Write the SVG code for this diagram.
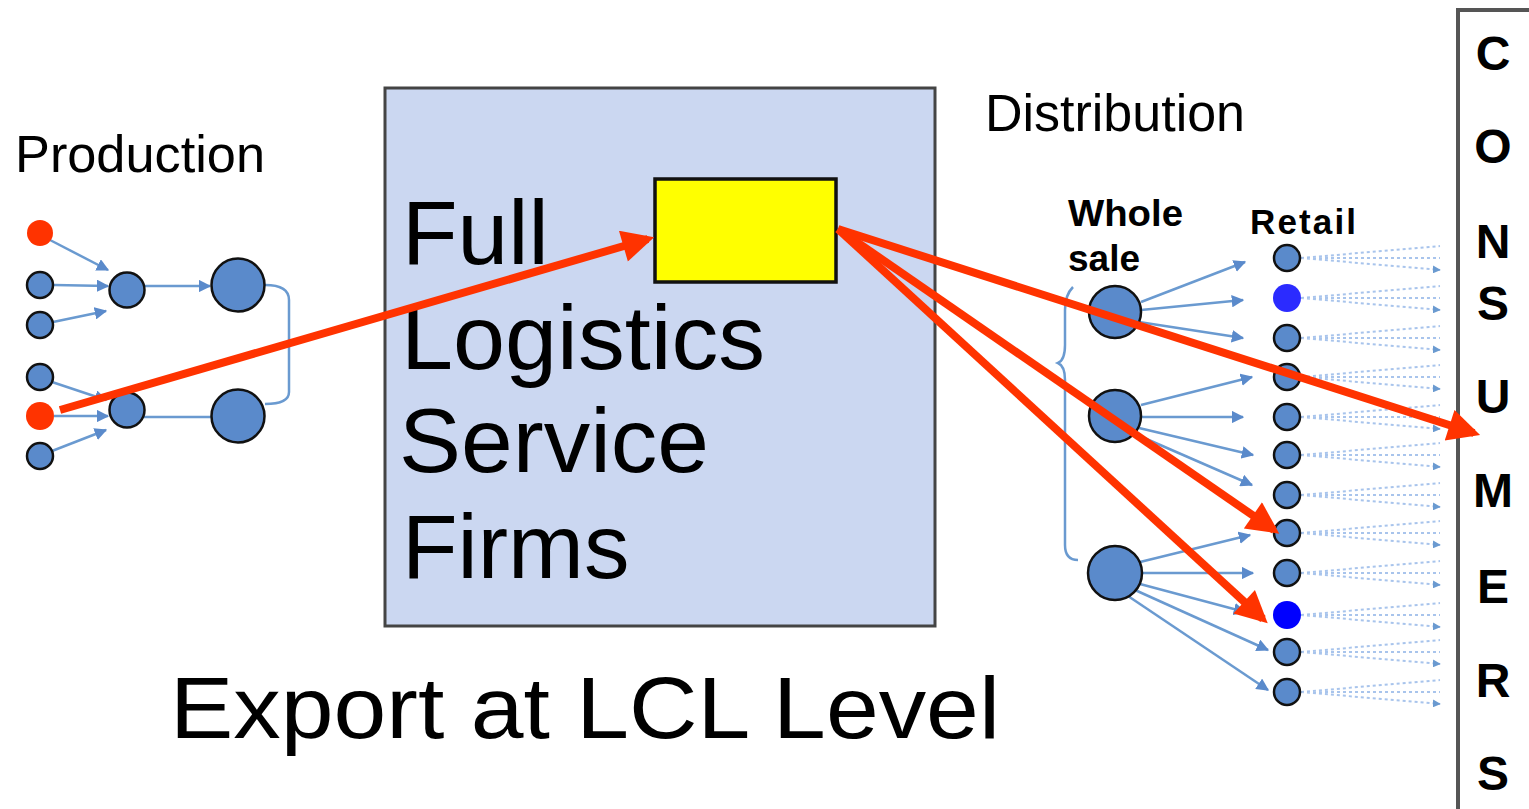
<svg xmlns="http://www.w3.org/2000/svg" width="1529" height="809" viewBox="0 0 1529 809">
<style>
.lbl{font-family:"Liberation Sans",Arial,sans-serif;fill:#000}
.big{font-size:91px}
.node{fill:#5a8acb;stroke:#111;stroke-width:2.5}
.red{fill:#ff3300;stroke:none}
.blue{fill:#2b2bff;stroke:none}
.edge{stroke:#6a9ad0;stroke-width:2.5;fill:none}
.edgeA{stroke:#6a9ad0;stroke-width:2.5;fill:none;marker-end:url(#sa)}
.dot{stroke:#a8c4ec;stroke-width:2;stroke-dasharray:3 3;fill:none;marker-end:url(#da)}
.redline{stroke:#ff3300;stroke-width:8;fill:none;marker-end:url(#ra)}
.cons{font-family:"Liberation Sans",Arial,sans-serif;font-weight:bold;font-size:48px;text-anchor:middle;fill:#000}
</style>
<defs>
<marker id="sa" viewBox="0 0 10 10" refX="9" refY="5" markerWidth="5" markerHeight="5" markerUnits="strokeWidth" orient="auto"><path d="M0,0 L10,5 L0,10 z" fill="#5a8acb"/></marker>
<marker id="da" viewBox="0 0 10 10" refX="9" refY="5" markerWidth="4" markerHeight="4" markerUnits="strokeWidth" orient="auto"><path d="M0,0 L10,5 L0,10 z" fill="#6a9ad0"/></marker>
<marker id="ra" viewBox="0 0 10 10" refX="8" refY="5" markerWidth="4.5" markerHeight="4" markerUnits="strokeWidth" orient="auto"><path d="M0,0 L10,5 L0,10 z" fill="#ff3300"/></marker>
</defs>
<rect width="1529" height="809" fill="#fff"/>

<g id="lsp-box">
<rect x="385" y="88" width="550" height="538" fill="#cbd7f1" stroke="#444" stroke-width="3"/>
<text class="lbl big" x="402" y="264">Full</text>
<text class="lbl big" x="401" y="369" textLength="364" lengthAdjust="spacingAndGlyphs">Logistics</text>
<text class="lbl big" x="399" y="472" textLength="310" lengthAdjust="spacingAndGlyphs">Service</text>
<text class="lbl big" x="402" y="578">Firms</text>
</g>
<g id="lsp-hub"><rect x="655" y="179" width="181" height="103" fill="#ffff00" stroke="#111" stroke-width="3.5"/></g>

<g id="labels">
<text class="lbl" x="15" y="172" font-size="52" textLength="250" lengthAdjust="spacingAndGlyphs">Production</text>
<text class="lbl" x="985" y="131" font-size="51" textLength="260" lengthAdjust="spacingAndGlyphs">Distribution</text>
<text class="lbl" x="1068" y="226" font-size="37" font-weight="bold" textLength="115" lengthAdjust="spacingAndGlyphs">Whole</text>
<text class="lbl" x="1068" y="271" font-size="37" font-weight="bold">sale</text>
<text class="lbl" x="1250" y="234" font-size="35" font-weight="bold" textLength="106" lengthAdjust="spacing">Retail</text>
<text class="lbl" x="170" y="738" font-size="88" textLength="830" lengthAdjust="spacingAndGlyphs">Export at LCL Level</text>
</g>

<g id="consumers">
<path d="M1458,809 V10 H1529" fill="none" stroke="#555" stroke-width="4"/>
<text class="cons" x="1493" y="70">C</text>
<text class="cons" x="1493" y="163">O</text>
<text class="cons" x="1493" y="258">N</text>
<text class="cons" x="1493" y="320">S</text>
<text class="cons" x="1493" y="413">U</text>
<text class="cons" x="1493" y="507">M</text>
<text class="cons" x="1493" y="603">E</text>
<text class="cons" x="1493" y="697">R</text>
<text class="cons" x="1493" y="790">S</text>
</g>

<g id="connectors">
<line class="edgeA" x1="50" y1="240" x2="108" y2="270"/>
<line class="edgeA" x1="54" y1="285" x2="108" y2="286"/>
<line class="edgeA" x1="53" y1="322" x2="106" y2="311"/>
<line class="edgeA" x1="52" y1="382" x2="106" y2="400"/>
<line class="edgeA" x1="54" y1="416" x2="108" y2="416"/>
<line class="edgeA" x1="52" y1="451" x2="106" y2="430"/>
<line class="edgeA" x1="144" y1="286" x2="210" y2="286"/>
<line class="edge" x1="144" y1="417" x2="211" y2="417"/>
<path class="edge" d="M265,285 Q289,285 289,300 V392 Q289,404 265,404"/>
<path class="edge" d="M1073,287 Q1065,295 1065,310 V345 Q1065,360 1058,363 Q1065,366 1065,380 V545 Q1065,560 1078,560"/>
<line class="edgeA" x1="1141" y1="302" x2="1245" y2="262"/>
<line class="edgeA" x1="1141" y1="310" x2="1243" y2="300"/>
<line class="edgeA" x1="1139" y1="322" x2="1243" y2="338"/>
<line class="edgeA" x1="1141" y1="405" x2="1252" y2="377"/>
<line class="edgeA" x1="1142" y1="417" x2="1243" y2="417"/>
<line class="edgeA" x1="1139" y1="428" x2="1253" y2="455"/>
<line class="edgeA" x1="1135" y1="434" x2="1252" y2="485"/>
<line class="edgeA" x1="1140" y1="562" x2="1250" y2="535"/>
<line class="edgeA" x1="1142" y1="573" x2="1253" y2="573"/>
<line class="edgeA" x1="1140" y1="584" x2="1245" y2="612"/>
<line class="edgeA" x1="1135" y1="590" x2="1268" y2="650"/>
<line class="edgeA" x1="1128" y1="596" x2="1268" y2="690"/>
<g>
<path class="dot" d="M1301,258 L1440,246 M1301,258 L1440,258 M1301,258 L1440,270"/>
<path class="dot" d="M1301,298 L1440,286 M1301,298 L1440,298 M1301,298 L1440,310"/>
<path class="dot" d="M1301,338 L1440,326 M1301,338 L1440,338 M1301,338 L1440,350"/>
<path class="dot" d="M1301,377 L1440,365 M1301,377 L1440,377 M1301,377 L1440,389"/>
<path class="dot" d="M1301,417 L1440,405 M1301,417 L1440,417 M1301,417 L1440,429"/>
<path class="dot" d="M1301,455 L1440,443 M1301,455 L1440,455 M1301,455 L1440,467"/>
<path class="dot" d="M1301,495 L1440,483 M1301,495 L1440,495 M1301,495 L1440,507"/>
<path class="dot" d="M1301,533 L1440,521 M1301,533 L1440,533 M1301,533 L1440,545"/>
<path class="dot" d="M1301,573 L1440,561 M1301,573 L1440,573 M1301,573 L1440,585"/>
<path class="dot" d="M1301,615 L1440,603 M1301,615 L1440,615 M1301,615 L1440,627"/>
<path class="dot" d="M1301,652 L1440,640 M1301,652 L1440,652 M1301,652 L1440,664"/>
<path class="dot" d="M1301,692 L1440,680 M1301,692 L1440,692 M1301,692 L1440,704"/>
</g>
</g>

<g id="production-nodes">
<circle id="p1" class="red" cx="40" cy="233" r="13"/>
<circle id="p2" class="node" cx="40" cy="285" r="13"/>
<circle id="p3" class="node" cx="40" cy="325" r="13"/>
<circle id="p4" class="node" cx="40" cy="377" r="13"/>
<circle id="p5" class="red" cx="40" cy="416" r="14"/>
<circle id="p6" class="node" cx="40" cy="456" r="13"/>
<circle id="m1" class="node" cx="127" cy="290" r="17.5"/>
<circle id="m2" class="node" cx="127" cy="410" r="17.5"/>
<circle id="l1" class="node" cx="238" cy="285" r="26.5"/>
<circle id="l2" class="node" cx="238" cy="416" r="26.5"/>
</g>

<g id="wholesale-nodes">
<circle id="w1" class="node" cx="1115" cy="312" r="26"/>
<circle id="w2" class="node" cx="1115" cy="416" r="26"/>
<circle id="w3" class="node" cx="1115" cy="573" r="27"/>
</g>

<g id="retail-nodes">
<circle class="node" cx="1287" cy="258" r="13"/>
<circle class="blue" cx="1287" cy="298" r="14"/>
<circle class="node" cx="1287" cy="338" r="13"/>
<circle class="node" cx="1287" cy="377" r="13"/>
<circle class="node" cx="1287" cy="417" r="13"/>
<circle class="node" cx="1287" cy="455" r="13"/>
<circle class="node" cx="1287" cy="495" r="13"/>
<circle class="node" cx="1287" cy="533" r="13"/>
<circle class="node" cx="1287" cy="573" r="13"/>
<circle class="blue" cx="1287" cy="615" r="14" style="fill:#0000ff"/>
<circle class="node" cx="1287" cy="652" r="13"/>
<circle class="node" cx="1287" cy="692" r="13"/>
</g>

<g id="red-flows">
<line class="redline" x1="60" y1="410" x2="648" y2="239"/>
<line class="redline" x1="838" y1="229" x2="1474" y2="433"/>
<line class="redline" x1="838" y1="229" x2="1274" y2="530"/>
<line class="redline" x1="838" y1="229" x2="1263" y2="619"/>
</g>
</svg>
